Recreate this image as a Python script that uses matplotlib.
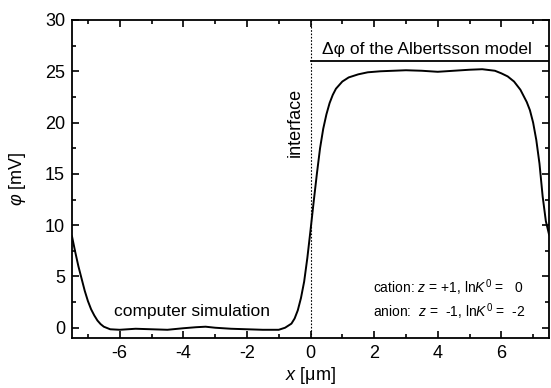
import numpy as np
import matplotlib
matplotlib.use('Agg')
import matplotlib.pyplot as plt
from matplotlib.ticker import MultipleLocator

plt.rcParams['font.family'] = ['Liberation Sans', 'DejaVu Sans']
plt.rcParams['mathtext.fontset'] = 'custom'
plt.rcParams['mathtext.it'] = 'Liberation Sans:italic'
plt.rcParams['mathtext.rm'] = 'Liberation Sans'
plt.rcParams['axes.unicode_minus'] = False

# potential profile
x_um = [-7.5, -7.4, -7.3, -7.2, -7.1, -7.0, -6.9, -6.8, -6.7, -6.6, -6.5, -6.3,
        -6.0, -5.5, -5.0, -4.5, -4.0, -3.6, -3.3, -3.0, -2.5, -2.0, -1.5, -1.0,
        -0.8, -0.6, -0.5, -0.4, -0.3, -0.2, -0.1, 0.0, 0.1, 0.2, 0.3, 0.4, 0.5,
        0.6, 0.7, 0.8, 1.0, 1.2, 1.5, 1.8, 2.2, 2.6, 3.0, 3.5, 4.0, 4.5, 5.0,
        5.4, 5.8, 6.0, 6.2, 6.4, 6.6, 6.8, 6.9, 7.0, 7.1, 7.2, 7.3, 7.4, 7.5]
phi_mV = [8.9, 7.4, 6.0, 4.8, 3.6, 2.6, 1.8, 1.2, 0.7, 0.35, 0.1, -0.15,
          -0.2, -0.1, -0.15, -0.2, -0.05, 0.05, 0.1, 0.0, -0.1, -0.15, -0.2, -0.2,
          0.0, 0.4, 0.9, 1.7, 2.9, 4.5, 6.8, 9.5, 12.3, 15.0, 17.5, 19.4, 20.8,
          21.9, 22.7, 23.3, 24.0, 24.4, 24.7, 24.9, 25.0, 25.05, 25.1, 25.05, 24.95, 25.05, 25.15,
          25.2, 25.05, 24.8, 24.5, 24.0, 23.2, 22.0, 21.2, 20.0, 18.3, 16.0, 12.8, 10.4, 9.1]

albertsson = 26.0

fig = plt.figure(figsize=(5.51, 3.88), dpi=100)
ax = fig.add_axes([0.1307, 0.1289, 0.8657, 0.8196])

ax.plot(x_um, phi_mV, color='black', lw=1.4)
ax.plot([0, 7.5], [albertsson, albertsson], color='black', lw=1.3)
ax.axvline(0, color='black', lw=0.8, ls=(0, (1.5, 1.5)))

ax.set_xlim(-7.5, 7.5)
ax.set_ylim(-1, 30)
ax.xaxis.set_major_locator(MultipleLocator(2))
ax.xaxis.set_minor_locator(MultipleLocator(1))
ax.yaxis.set_major_locator(MultipleLocator(5))
ax.yaxis.set_minor_locator(MultipleLocator(2.5))
ax.tick_params(which='both', direction='in', top=True, right=True, labelsize=13, width=1.2)
ax.tick_params(which='major', length=5, pad=5)
ax.tick_params(which='minor', length=3)
for s in ax.spines.values():
    s.set_linewidth(1.3)

ax.set_xlabel(r'$\it{x}$ [$\mathrm{\mu}$m]', fontsize=13, labelpad=2)
ax.set_ylabel(r'$\varphi$ [mV]', fontsize=13, labelpad=12)

ax.text(-0.47, 20, 'interface', rotation=90, ha='center', va='center', fontsize=13)
ax.text(3.65, 27.1, 'Δφ of the Albertsson model', ha='center', va='center', fontsize=12.5)
ax.text(-3.73, 1.6, 'computer simulation', ha='center', va='center', fontsize=12.5)
ax.text(1.95, 3.9, r'cation: $\it{z}$ = +1, ln$\it{K}^{\rm 0}$ =   0', ha='left', va='center', fontsize=10)
ax.text(1.95, 1.6, r'anion:  $\it{z}$ =  -1, ln$\it{K}^{\rm 0}$ =  -2', ha='left', va='center', fontsize=10)

fig.savefig('out.png', dpi=100)
